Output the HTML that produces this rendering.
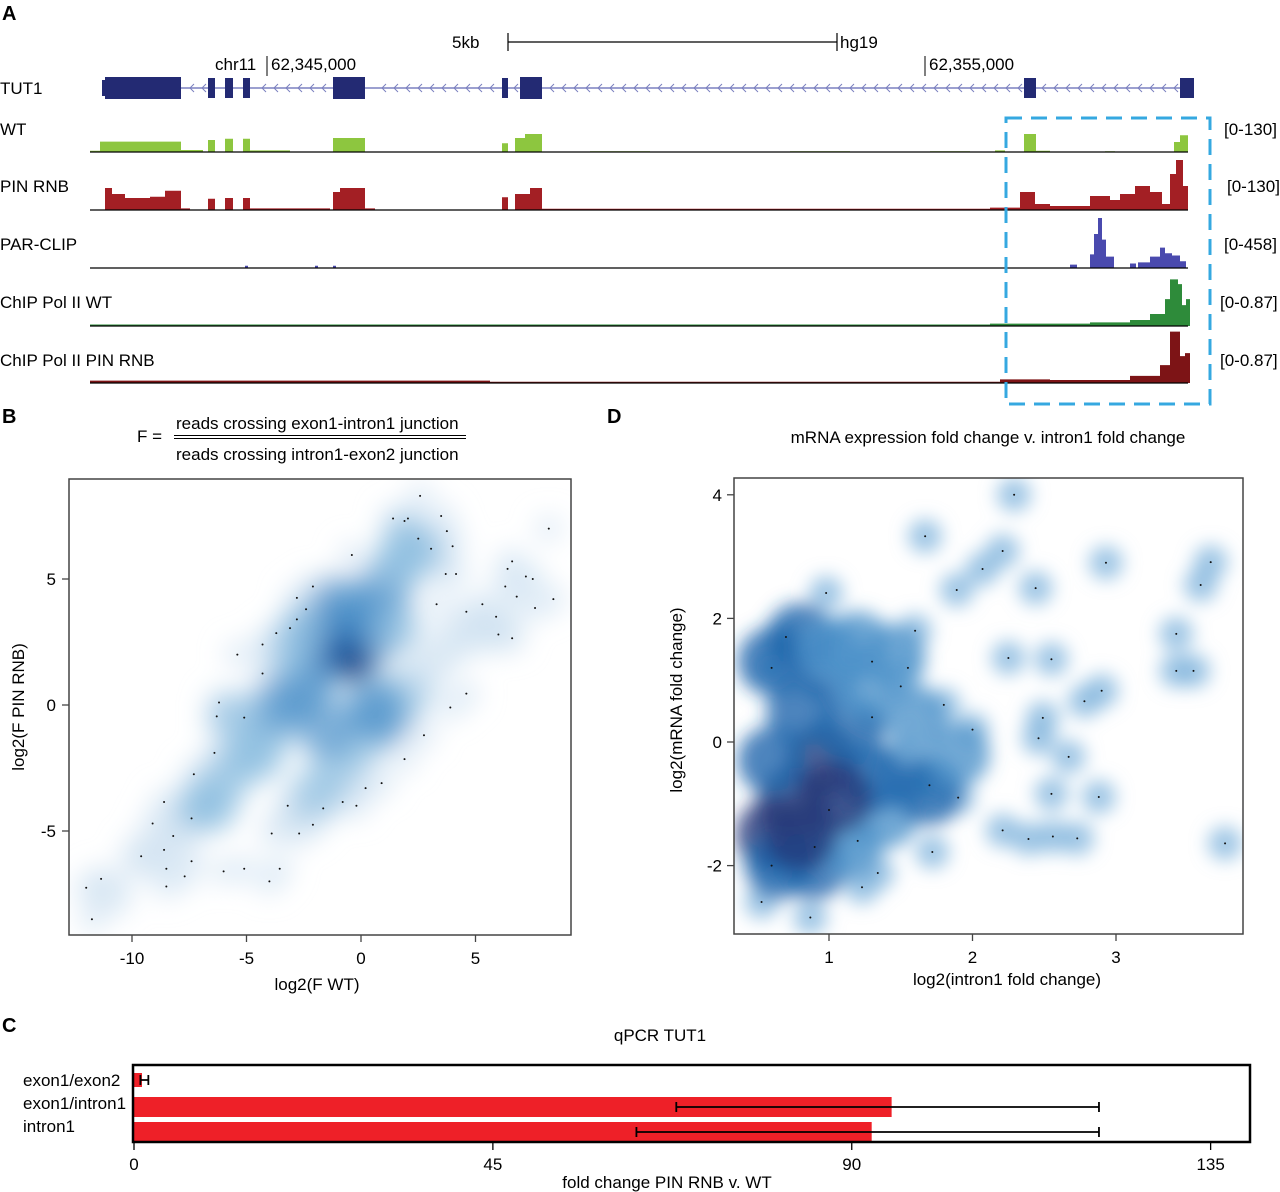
<!DOCTYPE html>
<html><head><meta charset="utf-8"><style>
html,body{margin:0;padding:0;background:#fff}
svg{display:block;font-family:"Liberation Sans",Arial,sans-serif}
</style></head><body>
<svg id="fig" width="1280" height="1192" viewBox="0 0 1280 1192" xmlns="http://www.w3.org/2000/svg">
<defs>
<filter id="blurB" x="-50%" y="-50%" width="200%" height="200%"><feGaussianBlur stdDeviation="13"/></filter>
<filter id="blurD" x="-50%" y="-50%" width="200%" height="200%"><feGaussianBlur stdDeviation="9"/></filter>
<clipPath id="clipB"><rect x="69" y="479" width="502" height="456"/></clipPath>
<clipPath id="clipD"><rect x="734" y="478" width="509" height="456"/></clipPath>
</defs>
<text x="2" y="20" font-size="20" font-weight="bold">A</text>
<text x="2" y="423" font-size="20" font-weight="bold">B</text>
<text x="607" y="423" font-size="20" font-weight="bold">D</text>
<text x="2" y="1032" font-size="20" font-weight="bold">C</text>

<g font-size="17">
<text x="452" y="48">5kb</text>
<g stroke="#000" stroke-width="1.2"><line x1="508" y1="42" x2="837" y2="42"/><line x1="508" y1="33" x2="508" y2="51"/><line x1="837" y1="33" x2="837" y2="51"/></g>
<text x="840" y="48">hg19</text>
<text x="215" y="70">chr11</text>
<line x1="267" y1="56" x2="267" y2="76" stroke="#000"/>
<text x="271" y="70">62,345,000</text>
<line x1="925" y1="56" x2="925" y2="76" stroke="#000"/>
<text x="929" y="70">62,355,000</text>
<text x="0" y="94">TUT1</text>
<text x="0" y="135">WT</text>
<text x="0" y="192">PIN RNB</text>
<text x="0" y="250">PAR-CLIP</text>
<text x="0" y="308">ChIP Pol II WT</text>
<text x="0" y="366">ChIP Pol II PIN RNB</text>
<text x="1224" y="135">[0-130]</text>
<text x="1227" y="192">[0-130]</text>
<text x="1224" y="250">[0-458]</text>
<text x="1220" y="308">[0-0.87]</text>
<text x="1220" y="366">[0-0.87]</text>
<g id="gene"></g>
<g id="tracks"></g>
<rect x="1006" y="118" width="204" height="286" fill="none" stroke="#35a8e0" stroke-width="3" stroke-dasharray="16,9"/>
</g>

<g font-size="17">
<text x="137" y="442">F =</text>
<text x="176" y="429">reads crossing exon1-intron1 junction</text>
<line x1="174" y1="435.5" x2="466" y2="435.5" stroke="#000"/>
<line x1="174" y1="438.5" x2="466" y2="438.5" stroke="#000"/>
<text x="176" y="460">reads crossing intron1-exon2 junction</text>
<g id="plotB"></g>
<rect x="69" y="479" width="502" height="456" fill="none" stroke="#444" stroke-width="1.5"/>
<g id="axesB"></g>
<text x="317" y="990" text-anchor="middle">log2(F WT)</text>
<text transform="translate(24,707) rotate(-90)" text-anchor="middle">log2(F PIN RNB)</text>
</g>

<g font-size="17">
<text x="988" y="443" text-anchor="middle">mRNA expression fold change v. intron1 fold change</text>
<g id="plotD"></g>
<rect x="734" y="478" width="509" height="456" fill="none" stroke="#444" stroke-width="1.5"/>
<g id="axesD"></g>
<text x="1007" y="985" text-anchor="middle">log2(intron1 fold change)</text>
<text transform="translate(682,700) rotate(-90)" text-anchor="middle">log2(mRNA fold change)</text>
</g>

<g font-size="17">
<text x="660" y="1041" text-anchor="middle">qPCR TUT1</text>
<g id="barsC"></g>
<rect x="133" y="1065" width="1117" height="77" fill="none" stroke="#000" stroke-width="2.5"/>
<g id="axesC"></g>
<text x="667" y="1188" text-anchor="middle">fold change PIN RNB v. WT</text>
</g>
</svg>
<script>
const NS="http://www.w3.org/2000/svg";
function mk(tag,attrs,parent){const e=document.createElementNS(NS,tag);for(const k in attrs)e.setAttribute(k,attrs[k]);if(parent)parent.appendChild(e);return e;}

// ---------- Panel A data ----------
const exonStarts=[105,208,225,243,333,502,520,1024,1180];
const exonEnds=[181,215,233,250,365,508,542,1036,1194];
const wtCov=[[0,10,3],[10,91,26],[91,113,5],[118,125,30],[135,143,33],[153,160,33],[160,200,4],[243,275,35],[412,418,22],[425,435,35],[435,452,45],[500,560,2],[700,760,2],[840,880,2],[905,915,4],[934,946,45],[946,960,3],[1015,1025,2],[1084,1090,25],[1090,1098,42]];
const pinCov=[[15,22,55],[22,35,40],[35,60,30],[60,75,33],[75,91,48],[91,100,4],[118,125,28],[135,143,30],[153,160,30],[160,240,4],[243,250,45],[250,275,55],[275,285,4],[412,418,32],[425,440,40],[440,452,55],[452,900,3],[900,930,6],[930,945,45],[945,960,15],[960,1000,10],[1000,1020,35],[1020,1030,25],[1030,1045,40],[1045,1060,60],[1060,1072,45],[1072,1080,15],[1080,1086,90],[1086,1093,125],[1093,1098,60]];
const parCov=[[155,158,20],[225,228,20],[243,246,20],[980,987,30],[1000,1004,120],[1004,1008,300],[1008,1012,440],[1012,1016,250],[1016,1024,100],[1040,1046,40],[1048,1060,50],[1060,1070,100],[1070,1075,180],[1075,1082,130],[1082,1090,110],[1090,1096,60]];
const chipWtCov=[[0,900,0.025],[900,1000,0.04],[1000,1040,0.06],[1040,1060,0.1],[1060,1075,0.2],[1075,1080,0.45],[1080,1088,0.78],[1088,1092,0.7],[1092,1096,0.35],[1096,1100,0.45]];
const chipPinCov=[[0,400,0.04],[400,910,0.02],[910,960,0.06],[960,1040,0.05],[1040,1070,0.12],[1070,1080,0.3],[1080,1090,0.86],[1090,1095,0.45],[1095,1100,0.5]];
const trackBase=[152,210,268,326,383];
const trackMax=[130,130,458,0.87,0.87];
const trackColor=["#8dc63f","#a31f24","#4a4aae","#2e8b3a","#7d1416"];
const trackNames=["track-wt","track-pin-rnb","track-par-clip","track-chip-wt","track-chip-pin"];
const trackData=[wtCov,pinCov,parCov,chipWtCov,chipPinCov];
const gx=p=>90+p;
(function(){
  const g=document.getElementById('gene');
  const il=mk('line',{x1:105,y1:88,x2:1194,y2:88,stroke:'#7b80c0','stroke-width':1.5},g);
  
  
  let d='';
  for(let x=190;x<1175;x+=12){ if(exonStarts.some((s,i)=>x>s-6&&x<exonEnds[i]+6))continue; d+=`M${x+4},84 L${x},88 L${x+4},92 `;}
  const ch=mk('path',{d:d,fill:'none',stroke:'#7b80c0','stroke-width':1},g);
  
  
  exonStarts.forEach((s,i)=>{const w=exonEnds[i]-s;const h=(w>20?22:20);
    const r=mk('rect',{x:s,y:88-h/2,width:w,height:h,fill:'#232a73'},g);
    
    });
  mk('rect',{x:102,y:80,width:4,height:16,fill:'#232a73'},g);
  const tg=document.getElementById('tracks');
  trackData.forEach((arr,ti)=>{
    const base=trackBase[ti],sc=52/trackMax[ti];
    let p=`M${gx(0)},${base}`;
    arr.forEach(([a,b,v])=>{p+=` L${gx(a)},${base} L${gx(a)},${base-v*sc} L${gx(b)},${base-v*sc} L${gx(b)},${base}`;});
    p+=` L${gx(1100)},${base} Z`;
    const path=mk('path',{d:p,fill:trackColor[ti]},tg);
    
    
    const bl=mk('line',{x1:90,y1:base,x2:1188,y2:base,stroke:'#000','stroke-width':1.3},tg);
    
    
  });
})();

// ---------- Panel B data ----------
const bTicksX=[-10,-5,0,5];
const bTicksY=[-5,0,5];
const bCoreX=[-11,-9.5,-8,-7,-6,-5,-4,-3.5,-2.5,-2,-1.5,-1,-0.5,0,0.5,1,1.5,2,-3,-2,-1,0,1,2,3,4,5,6,-1.5,-4.5,-6.5,0.5,-0.3,-3,-1,1.5,2.5,-5.5,-2.5];
const bCoreY=[-7.5,-6,-5,-4,-3,-2,-1,0,0.5,1.5,2.5,3,2,2.5,3.5,4.5,5.5,6.5,-4.5,-3.5,-2.5,-1.5,-0.5,0.5,1.5,2.5,3,3,-1,-2,-4,0,1.5,2,4,3,6,-0.5,3];
const bCoreL=[1,1,1,2,2,2,2,3,3,3,4,4,5,4,3,3,2,2,1,2,2,2,3,2,1,1,1,1,3,2,2,3,5,2,3,2,2,2,2];
const bPtX=[2.58,1.4,2.05,1.9,3.5,3.75,2.5,3.06,4.0,8.2,-0.4,3.7,4.15,6.6,6.4,7.2,7.5,6.3,6.8,8.4,7.6,3.3,5.3,4.6,5.9,6.0,6.6,-2.1,-2.8,-2.4,-2.8,-3.1,-3.7,-4.3,-5.4,-4.3,-6.2,-6.3,-5.1,4.6,3.9,2.75,1.9,-6.4,-7.3,0.9,0.2,-0.2,-0.8,-1.65,-3.2,-2.1,-2.7,-3.9,-8.6,-9.1,-7.4,-8.2,-9.6,-8.6,-7.4,-8.5,-7.7,-8.5,-6.0,-5.1,-3.55,-4.0,-11.35,-12,-11.75];
const bPtY=[8.3,7.4,7.4,7.3,7.5,6.9,6.6,6.2,6.3,7.0,5.95,5.2,5.2,5.7,5.4,5.1,5.0,4.7,4.3,4.2,3.85,4.0,4.0,3.7,3.5,2.8,2.65,4.7,4.25,3.8,3.4,3.05,2.85,2.4,2.0,1.25,0.1,-0.45,-0.5,0.45,-0.1,-1.2,-2.15,-1.9,-2.75,-3.1,-3.3,-4.0,-3.85,-4.1,-4.0,-4.75,-5.1,-5.1,-3.85,-4.7,-4.5,-5.2,-6.0,-5.75,-6.2,-6.5,-6.8,-7.2,-6.6,-6.5,-6.5,-7.0,-6.9,-7.25,-8.5];
const levelColor=['#ffffff','#cfe1f1','#8dbde0','#4f93cb','#1e66ad','#263a7a'];
const bx=v=>361+v*22.9, by=v=>705-v*25.2;
(function(){
  const g=document.getElementById('plotB');
  const cg=mk('g',{'clip-path':'url(#clipB)'},g);
  const bl=mk('g',{filter:'url(#blurB)'},cg);
  bPtX.forEach((x,i)=>{const c=mk('circle',{cx:bx(x),cy:by(bPtY[i]),r:13,fill:'#d6e6f4','fill-opacity':0.8},bl);
    
    });
  bCoreX.forEach((x,i)=>{const L=bCoreL[i];const c=mk('circle',{cx:bx(x),cy:by(bCoreY[i]),r:(L==5?16:20+L*3),fill:levelColor[L],'fill-opacity':0.7},bl);
    
    });
  bPtX.forEach((x,i)=>{const c=mk('circle',{cx:bx(x),cy:by(bPtY[i]),r:1,fill:'#111'},cg);
    
    });
  const a=document.getElementById('axesB');
  bTicksX.forEach(t=>{const l=mk('line',{x1:bx(t),y1:935,x2:bx(t),y2:942,stroke:'#444','stroke-width':1.3},a);
    
    
    const tx=mk('text',{x:bx(t),y:964,'text-anchor':'middle','font-size':17},a);tx.textContent=t;
    
    });
  bTicksY.forEach(t=>{const l=mk('line',{x1:62,y1:by(t),x2:69,y2:by(t),stroke:'#444','stroke-width':1.3},a);
    
    
    const tx=mk('text',{x:56,y:by(t)+6,'text-anchor':'end','font-size':17},a);tx.textContent=t;
    
    });
})();

// ---------- Panel D data ----------
const dTicksX=[1,2,3];
const dTicksY=[-2,0,2,4];
const dPtX=[2.29,1.67,2.21,2.93,3.66,3.59,2.44,2.07,1.89,0.98,3.42,3.42,3.54,2.55,2.25,2.9,2.78,2.49,2.46,2.67,2.88,2.55,2.73,2.56,2.39,2.21,3.76,1.72,1.34,1.23,0.53,0.87,1.6,1.55,1.8,2.0,0.7,0.6,1.3,1.3,1.5,1.0,1.7,1.9,0.9,0.6,1.2];
const dPtY=[4.0,3.33,3.09,2.9,2.91,2.54,2.49,2.8,2.46,2.41,1.75,1.15,1.15,1.34,1.36,0.83,0.66,0.39,0.06,-0.24,-0.89,-0.84,-1.56,-1.53,-1.57,-1.43,-1.64,-1.78,-2.12,-2.35,-2.59,-2.84,1.8,1.2,0.6,0.2,1.7,1.2,0.4,1.3,0.9,-1.1,-0.7,-0.9,-1.7,-2.0,-1.6];
const dCoreX=[0.6,0.75,0.95,1.15,0.6,0.8,1.0,1.2,0.6,0.8,1.0,1.25,0.65,0.9,1.15,1.4,1.5,1.7,1.3,1.6,1.9,1.45,0.8,1.05];
const dCoreY=[-1.5,-1.0,-0.3,0.2,-0.3,0.5,1.2,1.6,1.3,1.7,1.5,0.9,-2.0,-2.0,-1.7,-1.2,-0.5,-0.8,-0.6,0.4,-0.2,1.4,-1.5,-0.9];
const dCoreL=[5,5,5,4,4,4,4,3,4,4,3,3,4,4,3,3,3,4,4,3,3,3,5,5];
const dx=v=>829+(v-1)*143.5, dy=v=>742-v*61.8;
(function(){
  const g=document.getElementById('plotD');
  const cg=mk('g',{'clip-path':'url(#clipD)'},g);
  const bl=mk('g',{filter:'url(#blurD)'},cg);
  dPtX.forEach((x,i)=>{const c=mk('circle',{cx:dx(x),cy:dy(dPtY[i]),r:17,fill:'#7fb3dc','fill-opacity':0.75},bl);
    
    });
  dCoreX.forEach((x,i)=>{const L=dCoreL[i];const c=mk('circle',{cx:dx(x),cy:dy(dCoreY[i]),r:26+L*2,fill:levelColor[L],'fill-opacity':0.8},bl);
    
    });
  dPtX.forEach((x,i)=>{const c=mk('circle',{cx:dx(x),cy:dy(dPtY[i]),r:1,fill:'#111'},cg);
    
    });
  const a=document.getElementById('axesD');
  dTicksX.forEach(t=>{const l=mk('line',{x1:dx(t),y1:934,x2:dx(t),y2:941,stroke:'#444','stroke-width':1.3},a);
    
    
    const tx=mk('text',{x:dx(t),y:963,'text-anchor':'middle','font-size':17},a);tx.textContent=t;
    
    });
  dTicksY.forEach(t=>{const l=mk('line',{x1:727,y1:dy(t),x2:734,y2:dy(t),stroke:'#444','stroke-width':1.3},a);
    
    
    const tx=mk('text',{x:722,y:dy(t)+6,'text-anchor':'end','font-size':17},a);tx.textContent=t;
    
    });
})();

// ---------- Panel C data ----------
const cCategories=['exon1/exon2','exon1/intron1','intron1'];
const cValues=[1,95,92.5];
const cErrLo=[0.8,68,63];
const cErrHi=[1.8,121,121];
const cTicks=[0,45,90,135];
const cx=v=>134+v*7.975;
const cBarY=[1073,1097,1122], cBarH=[14,20,20];
(function(){
  const g=document.getElementById('barsC');
  cCategories.forEach((c,i)=>{
    const r=mk('rect',{x:cx(0),y:cBarY[i],width:cx(cValues[i])-cx(0),height:cBarH[i],fill:'#ee2028'},g);
    
    
    const my=cBarY[i]+cBarH[i]/2;
    const e=mk('path',{d:`M${cx(cErrLo[i])},${my} L${cx(cErrHi[i])},${my} M${cx(cErrLo[i])},${my-5} L${cx(cErrLo[i])},${my+5} M${cx(cErrHi[i])},${my-5} L${cx(cErrHi[i])},${my+5}`,stroke:'#000','stroke-width':1.8,fill:'none'},g);
    
    
    const t=mk('text',{x:23,y:[1086,1109,1132][i],'font-size':17},g);t.textContent=c;
    
    
  });
  const a=document.getElementById('axesC');
  cTicks.forEach(t=>{const l=mk('line',{x1:cx(t),y1:1143,x2:cx(t),y2:1150,stroke:'#000','stroke-width':1.3},a);
    
    
    const tx=mk('text',{x:cx(t),y:1170,'text-anchor':'middle','font-size':17},a);tx.textContent=t;
    
    });
})();
</script>
</body></html>
